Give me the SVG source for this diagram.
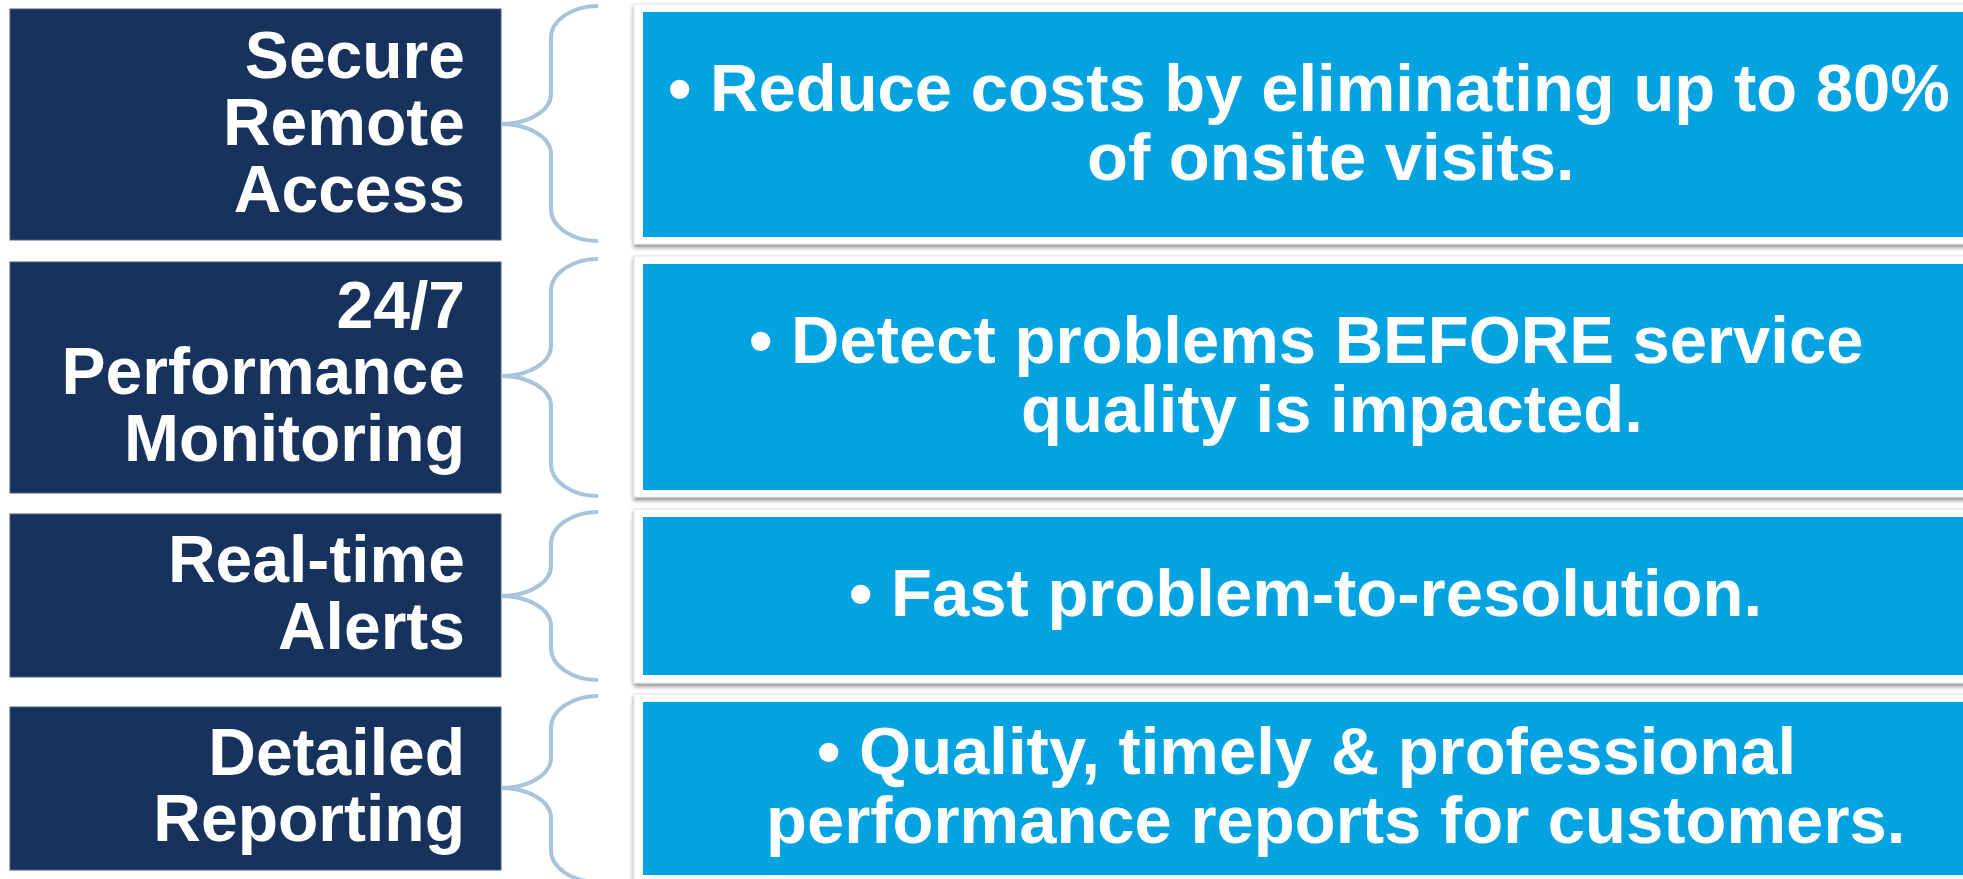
<svg xmlns="http://www.w3.org/2000/svg" width="1963" height="879" viewBox="0 0 1963 879">
<style>
.nav{fill:#17325d;stroke:#4a5f80;stroke-width:1}
.lbl{font-family:"Liberation Sans",Arial,sans-serif;font-weight:bold;font-size:66px;fill:#ffffff;text-anchor:end}
.frm{fill:#ffffff;stroke:#e2e2e2;stroke-width:1;filter:url(#sh)}
.blu{fill:#03a2e0}
.btx{font-family:"Liberation Sans",Arial,sans-serif;font-weight:bold;font-size:67px;fill:#ffffff}
.brc{fill:none;stroke:#a8c4da;stroke-width:4}
</style>
<defs>
<filter id="sh" x="-5%" y="-10%" width="110%" height="125%">
<feDropShadow dx="0" dy="3" stdDeviation="2" flood-color="#000000" flood-opacity="0.45"/>
</filter>
</defs>
<rect width="1963" height="879" fill="#ffffff"/>

<g id="label-secure-remote-access">
<rect class="nav" x="10" y="9" width="491" height="231"/>
<text class="lbl" x="465" y="78">Secure</text>
<text class="lbl" x="465" y="145">Remote</text>
<text class="lbl" x="465" y="212">Access</text>
</g>
<g id="label-performance-monitoring">
<rect class="nav" x="10" y="262" width="491" height="231"/>
<text class="lbl" x="465" y="328">24/7</text>
<text class="lbl" x="465" y="394">Performance</text>
<text class="lbl" x="465" y="461">Monitoring</text>
</g>
<g id="label-real-time-alerts">
<rect class="nav" x="10" y="514" width="491" height="163"/>
<text class="lbl" x="465" y="582">Real-time</text>
<text class="lbl" x="465" y="649">Alerts</text>
</g>
<g id="label-detailed-reporting">
<rect class="nav" x="10" y="707" width="491" height="163"/>
<text class="lbl" x="465" y="775">Detailed</text>
<text class="lbl" x="465" y="841">Reporting</text>
</g>

<g id="connectors">
<path class="brc" d="M598,6 A47,32 0 0 0 551,38 L551,94 A50,30 0 0 1 501,124 A50,30 0 0 1 551,154 L551,209 A47,32 0 0 0 598,241"/>
<path class="brc" d="M598,259 A47,32 0 0 0 551,291 L551,346 A50,30 0 0 1 501,376 A50,30 0 0 1 551,406 L551,464 A47,32 0 0 0 598,496"/>
<path class="brc" d="M598,512 A47,32 0 0 0 551,544 L551,566 A50,30 0 0 1 501,596 A50,30 0 0 1 551,626 L551,648 A47,32 0 0 0 598,680"/>
<path class="brc" d="M598,696 A47,32 0 0 0 551,728 L551,758 A50,30 0 0 1 501,788 A50,30 0 0 1 551,818 L551,850 A47,32 0 0 0 598,882"/>
</g>

<g id="benefit-reduce-costs">
<rect class="frm" x="634" y="4" width="1360" height="240"/>
<rect class="blu" x="643" y="12" width="1340" height="225"/>
<text class="btx" x="668" y="111">• Reduce costs by eliminating up to 80%</text>
<text class="btx" x="1087" y="180">of onsite visits.</text>
</g>
<g id="benefit-detect-problems">
<rect class="frm" x="634" y="256" width="1360" height="241"/>
<rect class="blu" x="643" y="264" width="1340" height="226"/>
<text class="btx" x="749" y="363">• Detect problems BEFORE service</text>
<text class="btx" x="1021" y="432">quality is impacted.</text>
</g>
<g id="benefit-fast-resolution">
<rect class="frm" x="634" y="509" width="1360" height="174"/>
<rect class="blu" x="643" y="517" width="1340" height="158"/>
<text class="btx" x="849" y="616">• Fast problem-to-resolution.</text>
</g>
<g id="benefit-quality-reports">
<rect class="frm" x="634" y="694" width="1360" height="190"/>
<rect class="blu" x="643" y="702" width="1340" height="173"/>
<text class="btx" x="817" y="774">• Quality, timely &amp; professional</text>
<text class="btx" x="766" y="843">performance reports for customers.</text>
</g>
</svg>
